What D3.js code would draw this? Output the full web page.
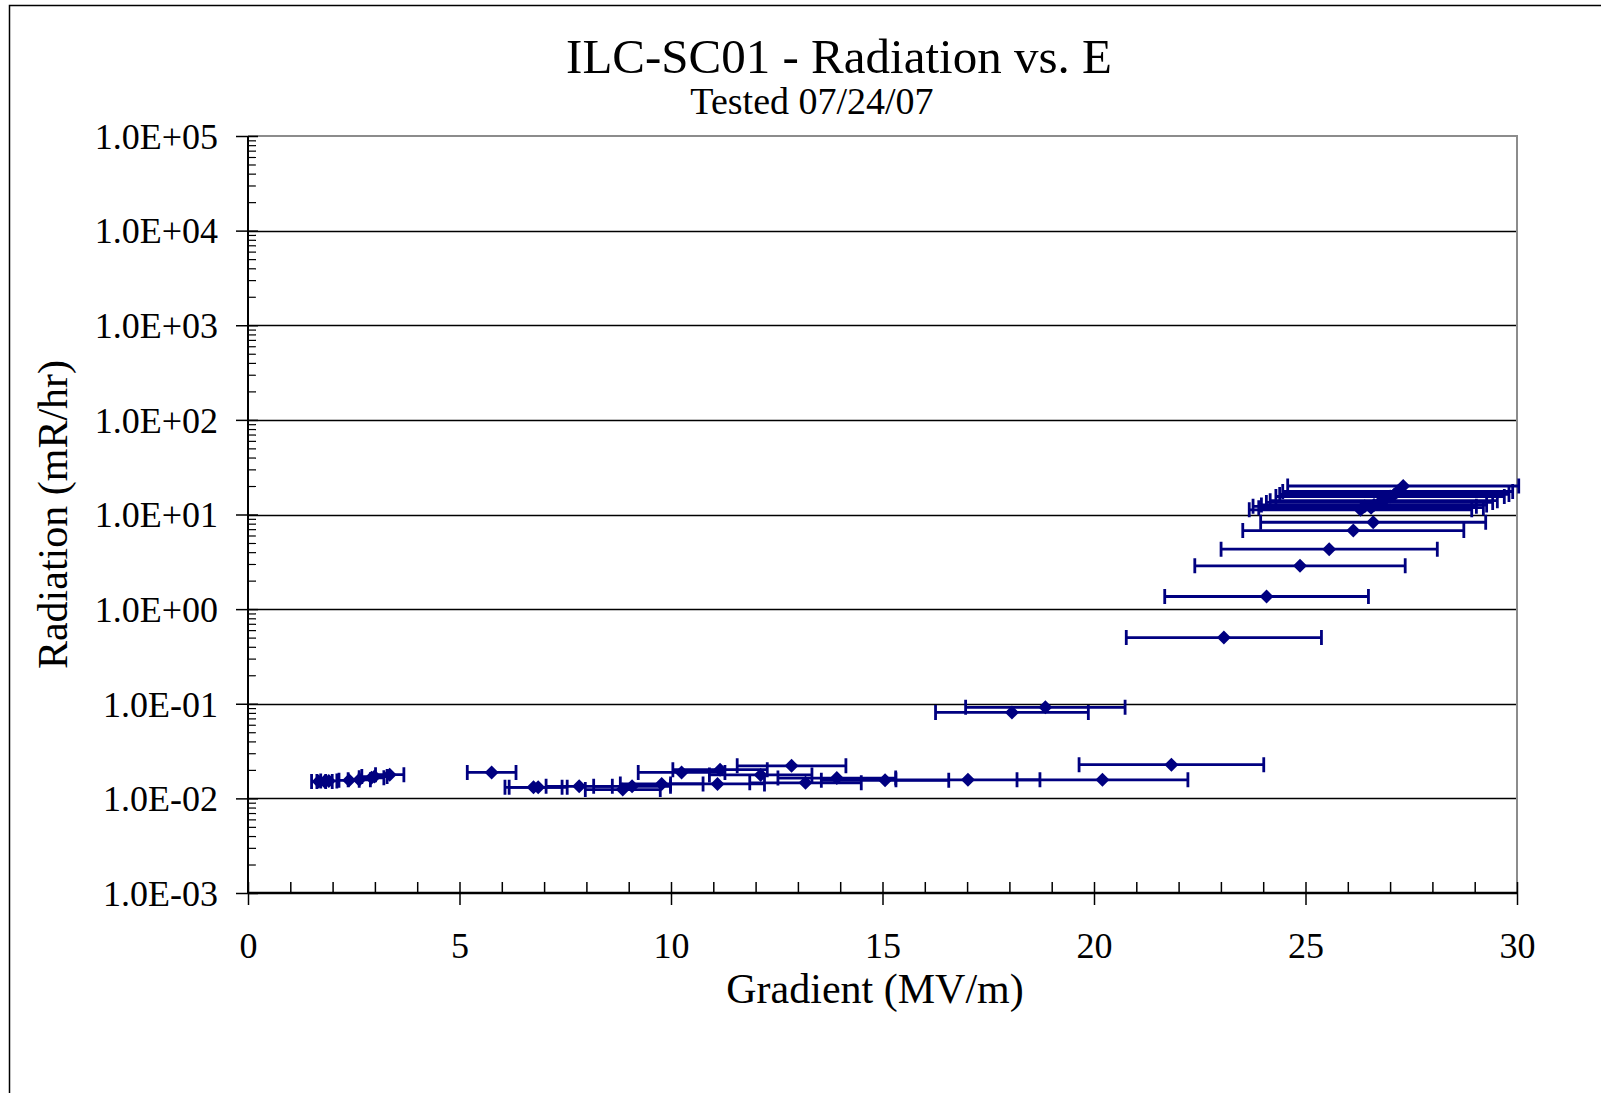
<!DOCTYPE html>
<html>
<head>
<meta charset="utf-8">
<script src="https://cdn.jsdelivr.net/npm/d3@7"></script>
<style>
	body { margin: 0; background: #fff; }
	svg { display: block; font-family: "Liberation Serif", "Times New Roman", serif; }
</style>
</head>
<body>
<svg width="1601" height="1093"></svg>
<script>
// gradient (MV/m) and radiation (mR/hr)
const gradient = [
	1.67, 1.81, 1.91, 2.39, 2.63, 2.92, 2.99, 3.35,
	5.76, 6.75, 6.86, 7.83, 8.86, 9.08, 9.78, 10.25, 11.1, 11.16, 12.12, 12.85,
	13.18, 13.92, 15.06, 17.02, 20.2, 21.83,
	18.06, 18.85,
	23.07, 24.08, 24.87, 25.56, 26.13, 26.6,
	26.3, 26.4, 26.55, 26.62, 26.75, 26.85, 27.0, 27.1, 27.18, 27.31
];
const radiation = [
	0.0151, 0.0151, 0.0153, 0.0155, 0.0157, 0.0165, 0.017, 0.0178,
	0.0188, 0.0131, 0.0131, 0.0134, 0.0124, 0.0134, 0.0142, 0.0188, 0.0142, 0.0201, 0.0177, 0.0221,
	0.0146, 0.0164, 0.0155, 0.0157, 0.0157, 0.0227,
	0.0809, 0.0916,
	0.501, 1.36, 2.87, 4.3, 6.76, 8.28,
	11.2, 12.2, 11.8, 12.6, 13.4, 14.0, 15.5, 16.3, 17.5, 20.0
];
const errPct = 10; // x error bars, percent of value
const xTicks = [0, 5, 10, 15, 20, 25, 30];
const yTicks = [1e-3, 1e-2, 1e-1, 1e0, 1e1, 1e2, 1e3, 1e4, 1e5];
const title = "ILC-SC01 - Radiation vs. E";
const subtitle = "Tested 07/24/07";
const xLabel = "Gradient (MV/m)";
const yLabel = "Radiation (mR/hr)";

const plot = { l: 248, r: 1517, t: 136, b: 893 };
const navy = "#000080";
const serif = '"Liberation Serif", "Times New Roman", serif';

const svg = d3.select("svg");
const data = gradient.map((g, i) => ({ x: g, y: radiation[i] }));

const scaleX = d3.scaleLinear().domain([0, 30]).range([plot.l, plot.r]);
const scaleY = d3.scaleLog().domain([1e-3, 1e5]).range([plot.b, plot.t]);

// outer chart border
svg.append("rect")
	.attr("x", 9.5).attr("y", 5.5)
	.attr("width", 2000).attr("height", 2000)
	.attr("fill", "none").attr("stroke", "#000").attr("stroke-width", 1.5);

// titles
svg.append("text")
	.attr("x", 839).attr("y", 73)
	.attr("text-anchor", "middle")
	.attr("font-size", 49)
	.text(title);
svg.append("text")
	.attr("x", 812).attr("y", 114)
	.attr("text-anchor", "middle")
	.attr("font-size", 38)
	.text(subtitle);

// gridlines
svg.append("g")
	.selectAll("line")
	.data(yTicks.slice(1, -1))
	.join("line")
	.attr("x1", plot.l).attr("x2", plot.r)
	.attr("y1", (d) => Math.round(scaleY(d)) + 0.5).attr("y2", (d) => Math.round(scaleY(d)) + 0.5)
	.attr("stroke", "#000").attr("stroke-width", 1.4);

// top and right frame in gray
svg.append("path")
	.attr("d", `M${plot.l},${plot.t}H${plot.r}V${plot.b}`)
	.attr("fill", "none").attr("stroke", "#8c8c8c").attr("stroke-width", 2);

// y axis
let fmtE = (d) => {
	let e = Math.round(Math.log10(d));
	let s = e < 0 ? "-" : "+";
	return "1.0E" + s + String(Math.abs(e)).padStart(2, "0");
};
let axisY = d3.axisLeft(scaleY).tickValues(yTicks).tickFormat(fmtE).tickSize(12);
let axisYG = svg.append("g")
	.attr("transform", `translate(${plot.l}, 0)`)
	.call(axisY)
	.attr("font-family", serif)
	.attr("font-size", 36);
axisYG.select(".domain").remove();
axisYG.selectAll("line").attr("stroke", "#000").attr("stroke-width", 1.5);
axisYG.selectAll("text")
	.attr("x", -30)
	.attr("dy", "0.34em")
	.attr("fill", "#000");

let minorY = [];
yTicks.slice(0, -1).forEach((d) => {
	for (let k = 2; k <= 9; k++) minorY.push(d * k);
});
let axisYMinor = d3.axisRight(scaleY).tickValues(minorY).tickFormat("").tickSize(8);
let axisYMinorG = svg.append("g")
	.attr("transform", `translate(${plot.l}, 0)`)
	.call(axisYMinor);
axisYMinorG.select(".domain").remove();
axisYMinorG.selectAll("line").attr("stroke", "#000").attr("stroke-width", 1.2);

let axisYInner = d3.axisRight(scaleY).tickValues(yTicks).tickFormat("").tickSize(10);
let axisYInnerG = svg.append("g")
	.attr("transform", `translate(${plot.l}, 0)`)
	.call(axisYInner);
axisYInnerG.select(".domain").remove();
axisYInnerG.selectAll("line").attr("stroke", "#000").attr("stroke-width", 1.5);

// x axis
let axisX = d3.axisBottom(scaleX).tickValues(xTicks).tickSize(12);
let axisXG = svg.append("g")
	.attr("transform", `translate(0, ${plot.b})`)
	.call(axisX)
	.attr("font-family", serif)
	.attr("font-size", 36);
axisXG.select(".domain").remove();
axisXG.selectAll("line").attr("stroke", "#000").attr("stroke-width", 1.5);
axisXG.selectAll("text")
	.attr("y", 65)
	.attr("dy", null)
	.attr("fill", "#000");

let axisXInner = d3.axisTop(scaleX).tickValues(d3.range(0, 31)).tickFormat("").tickSize(11);
let axisXInnerG = svg.append("g")
	.attr("transform", `translate(0, ${plot.b})`)
	.call(axisXInner);
axisXInnerG.select(".domain").remove();
axisXInnerG.selectAll("line").attr("stroke", "#000").attr("stroke-width", 1.5);

// axis lines
svg.append("line")
	.attr("x1", plot.l).attr("x2", plot.l)
	.attr("y1", plot.t).attr("y2", plot.b)
	.attr("stroke", "#000").attr("stroke-width", 2);
svg.append("line")
	.attr("x1", plot.l).attr("x2", plot.r)
	.attr("y1", plot.b).attr("y2", plot.b)
	.attr("stroke", "#000").attr("stroke-width", 2.4);

// axis titles
svg.append("text")
	.attr("x", 875).attr("y", 1003)
	.attr("text-anchor", "middle")
	.attr("font-size", 42)
	.text(xLabel);
svg.append("text")
	.attr("transform", "rotate(-90)")
	.attr("x", -(plot.t + plot.b) / 2)
	.attr("y", 67)
	.attr("text-anchor", "middle")
	.attr("font-size", 42)
	.text(yLabel);

// error bars
let errG = svg.append("g")
	.attr("stroke", navy)
	.attr("stroke-width", 2.8)
	.attr("fill", "none");
let lo = (d) => scaleX(d.x * (1 - errPct / 100));
let hi = (d) => scaleX(d.x * (1 + errPct / 100));
errG.selectAll("path")
	.data(data)
	.join("path")
	.attr("d", (d) => {
		let yy = scaleY(d.y);
		return `M${lo(d)},${yy}H${hi(d)}` +
			`M${lo(d)},${yy - 7.5}V${yy + 7.5}` +
			`M${hi(d)},${yy - 7.5}V${yy + 7.5}`;
	});

// diamond markers
svg.append("g")
	.selectAll("path")
	.data(data)
	.join("path")
	.attr("transform", (d) => `translate(${scaleX(d.x)}, ${scaleY(d.y)})`)
	.attr("d", "M0,-7L7,0L0,7L-7,0Z")
	.attr("fill", navy);
</script>
</body>
</html>
